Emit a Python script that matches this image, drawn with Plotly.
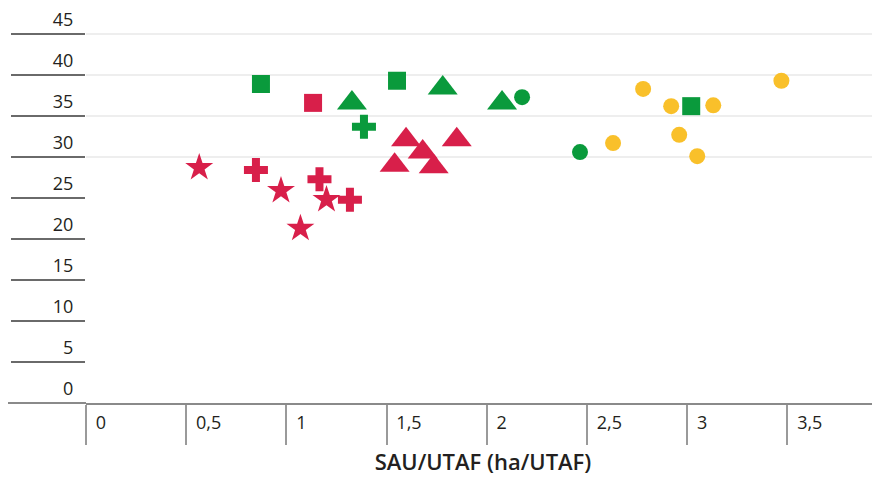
import plotly.graph_objects as go

# ---- data (x: SAU/UTAF, y: value) ----
red_star_x = [0.565, 0.973, 1.20, 1.07]
red_star_y = [28.7, 25.9, 24.8, 21.3]

red_cross_x = [0.848, 1.165, 1.317]
red_cross_y = [28.4, 27.3, 24.8]

red_square_x = [1.133]
red_square_y = [36.6]

red_tri_x = [1.597, 1.68, 1.54, 1.735, 1.85]
red_tri_y = [32.1, 30.6, 29.0, 28.8, 32.1]

green_square_x = [0.873, 1.552, 3.02]
green_square_y = [38.9, 39.3, 36.2]

green_tri_x = [1.78, 1.327, 2.076]
green_tri_y = [38.4, 36.6, 36.6]

green_cross_x = [1.387]
green_cross_y = [33.7]

green_ell_x = [2.176, 2.465]
green_ell_y = [37.3, 30.6]

yellow_ell_x = [2.78, 2.92, 3.13, 3.47, 2.63, 2.96, 3.05]
yellow_ell_y = [38.3, 36.2, 36.3, 39.3, 31.7, 32.7, 30.1]

x_tickvals = [0, 0.5, 1, 1.5, 2, 2.5, 3, 3.5]
x_ticktext = ["0", "0,5", "1", "1,5", "2", "2,5", "3", "3,5"]
y_tickvals = [0, 5, 10, 15, 20, 25, 30, 35, 40, 45]
y_ticktext = ["0", "5", "10", "15", "20", "25", "30", "35", "40", "45"]
grid_vals = [30, 35, 40, 45]
x_title = "SAU/UTAF (ha/UTAF)"

RED = "#D81F4A"
GREEN = "#0A9A3C"
YELLOW = "#F9C02A"

fig = go.Figure()

def add(xs, ys, color, symbol, size):
    fig.add_trace(go.Scatter(
        x=xs, y=ys, mode="markers", showlegend=False,
        marker=dict(color=color, symbol=symbol, size=size, line=dict(width=0)),
    ))

add(yellow_ell_x, yellow_ell_y, YELLOW, "circle", 16)
add(green_ell_x, green_ell_y, GREEN, "circle", 16)
add(red_star_x, red_star_y, RED, "star", 21)
add(red_cross_x, red_cross_y, RED, "cross", 20)
add(red_square_x, red_square_y, RED, "square", 18)
add(red_tri_x, red_tri_y, RED, "triangle-up", 26)
add(green_square_x, green_square_y, GREEN, "square", 18)
add(green_tri_x, green_tri_y, GREEN, "triangle-up", 26)
add(green_cross_x, green_cross_y, GREEN, "cross", 20)

shapes = []
for g in grid_vals:
    shapes.append(dict(type="line", xref="paper", yref="y", x0=0, x1=1, y0=g, y1=g,
                       line=dict(color="#E8E8E8", width=1.5), layer="below"))
# extension of x-axis line to the left
shapes.append(dict(type="line", xref="paper", yref="paper", x0=-0.1, x1=0, y0=0, y1=0,
                   line=dict(color="#8A8A8A", width=2)))

# page body has an 8px margin, so the figure is sized/offset to compensate
fig.update_layout(
    width=872, height=471,
    margin=dict(l=78, r=0, t=0, b=76),
    paper_bgcolor="white", plot_bgcolor="white",
    font=dict(family="Open Sans", size=18, color="#231F20"),
    shapes=shapes,
    xaxis=dict(
        range=[0, 3.962], tickvals=x_tickvals, ticktext=x_ticktext,
        automargin=False,
        showgrid=False, zeroline=False,
        showline=True, linecolor="#8A8A8A", linewidth=2,
        ticks="outside", ticklen=40, tickwidth=1.5, tickcolor="#9A9A9A",
        ticklabelposition="outside right", ticklabelstandoff=2, ticklabelshift=8,
        ticklabeloverflow="allow",
        tickfont=dict(size=18),
        title=dict(text=x_title, font=dict(size=22, weight=600), standoff=22),
    ),
    yaxis=dict(
        range=[0, 48.17], tickvals=y_tickvals, ticktext=y_ticktext,
        automargin=False,
        showgrid=False, zeroline=False, showline=False,
        ticks="outside", ticklen=74, tickwidth=2, tickcolor="#6A6A6A",
        ticklabelstandoff=-66, ticklabelshift=-14,
        ticklabeloverflow="allow",
        tickfont=dict(size=18),
    ),
)

fig.write_html("out.html")
